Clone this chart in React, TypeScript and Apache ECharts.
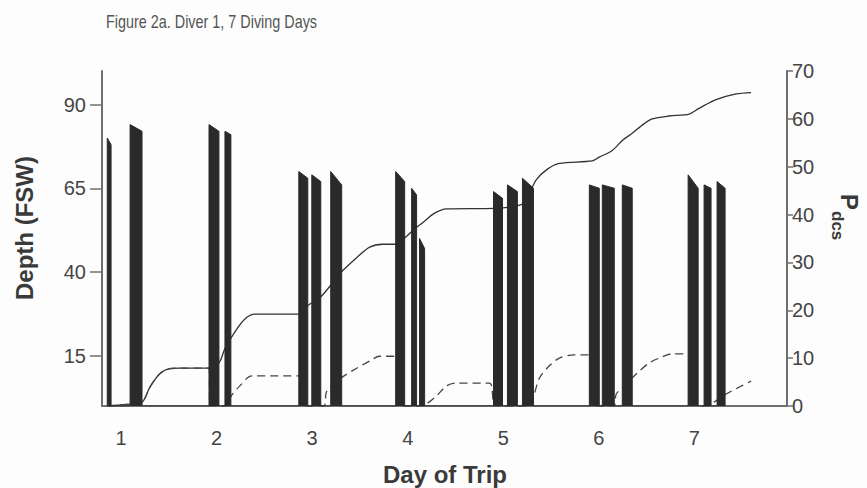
import { useEffect, useRef } from "react";
import * as echarts from "echarts";

// ---- data ----
const dayTicks = [1, 2, 3, 4, 5, 6, 7];
const depthTicks = [15, 40, 65, 90];

// dives (day of trip), depth in FSW
const diveStart = [0.855, 1.094, 1.92, 2.087, 2.86, 2.996, 3.194, 3.874, 4.041, 4.124, 4.898, 5.044, 5.201, 5.901, 6.037, 6.246, 6.935, 7.102, 7.238];
const diveEnd = [0.895, 1.219, 2.024, 2.149, 2.954, 3.09, 3.309, 3.968, 4.093, 4.177, 4.992, 5.148, 5.316, 6.005, 6.162, 6.35, 7.04, 7.175, 7.322];
const diveMaxDepth = [80, 84, 84, 82, 70, 69, 70, 70, 65, 50, 64, 66, 68, 66, 66, 66, 69, 66, 67];
const diveEndDepth = [78, 82, 82, 81, 68, 67, 66, 67, 63, 47, 62, 64, 65, 65, 65, 65, 65, 65, 65];

// cumulative P(dcs) (solid line)
const cumDay = [0.854, 1.094, 1.219, 1.303, 1.408, 1.512, 1.617, 1.92, 2.024, 2.087, 2.191, 2.296, 2.4, 2.87, 2.954, 3.079, 3.205, 3.32, 3.466, 3.602, 3.738, 3.884, 3.968, 4.072, 4.156, 4.281, 4.406, 4.908, 5.201, 5.274, 5.347, 5.462, 5.587, 5.932, 6.005, 6.141, 6.246, 6.35, 6.475, 6.559, 6.737, 6.946, 7.05, 7.228, 7.437, 7.594];
const cumP = [0, 0.4, 0.8, 4, 6.8, 7.8, 7.9, 7.9, 9, 12, 15.5, 18.2, 19.2, 19.2, 21, 22.6, 25.5, 28.3, 31, 33.2, 33.8, 33.8, 35.1, 37, 38.3, 40.3, 41.2, 41.3, 42.2, 44.5, 47.3, 49.5, 50.7, 51.2, 52, 53.4, 55.5, 57, 59, 60, 60.6, 61, 62.2, 64, 65.2, 65.5];

// daily P(dcs) (dashed line)
const dailyDay = [0.854, 1.094, 1.219, 1.303, 1.408, 1.512, 1.617, 1.92, 1.93, 2.12, 2.139, 2.243, 2.369, 2.923, 2.93, 3.12, 3.153, 3.3, 3.466, 3.602, 3.706, 3.884, 3.9, 4.17, 4.197, 4.302, 4.406, 4.511, 4.856, 4.92, 5.28, 5.305, 5.378, 5.483, 5.587, 5.744, 5.901, 5.92, 6.16, 6.183, 6.287, 6.392, 6.528, 6.632, 6.768, 7.019, 7.03, 7.15, 7.176, 7.333, 7.437, 7.594];
const dailyP = [0, 0.4, 0.8, 4, 6.8, 7.8, 7.9, 7.9, 0, 0, 1.7, 4.2, 6.3, 6.3, 0, 0, 3.1, 5.8, 7.9, 9.4, 10.4, 10.4, 0, 0, 0.4, 2.1, 4.2, 4.8, 4.8, 0, 0, 1, 5.8, 8.4, 10, 10.7, 10.7, 0, 0, 2.5, 4.6, 6.7, 9, 10, 10.9, 10.9, 0, 0, 0.4, 2.5, 3.6, 5.2];

const FONT = "'Liberation Sans', Arial, sans-serif";
const INK = "#2a2a2a";
const AXIS = "#6f6f6f";
const LABEL = "#444";
const TITLE = "#3a3a3a";

export default function App() {
  const ref = useRef<HTMLDivElement>(null);

  useEffect(() => {
    if (!ref.current) return;
    const chart = echarts.init(ref.current, undefined, { renderer: "svg" });

    const profile: number[][] = [];
    for (let i = 0; i < diveStart.length; i++) {
      profile.push([diveStart[i], 0], [diveStart[i], diveMaxDepth[i]], [diveEnd[i], diveEndDepth[i]], [diveEnd[i], 0]);
    }
    const cum = cumDay.map((d, i) => [d, cumP[i]]);
    const daily = dailyDay.map((d, i) => [d, dailyP[i]]);

    chart.setOption({
      animation: false,
      backgroundColor: "#fdfdfd",
      grid: { left: 102, right: 80, top: 71, bottom: 82, containLabel: false },
      xAxis: {
        type: "value",
        min: 0.8,
        max: 7.97,
        axisLine: { show: true, lineStyle: { color: AXIS, width: 2 } },
        axisTick: { show: false },
        splitLine: { show: false },
        axisLabel: {
          customValues: dayTicks,
          fontSize: 20,
          fontFamily: FONT,
          color: LABEL,
          margin: 22,
        },
      },
      yAxis: [
        {
          type: "value",
          position: "left",
          min: 0,
          max: 100,
          axisLine: { show: true, lineStyle: { color: AXIS, width: 2 } },
          axisTick: { show: true, length: 12, customValues: depthTicks, lineStyle: { color: AXIS, width: 1.5 } },
          splitLine: { show: false },
          axisLabel: {
            customValues: depthTicks,
            fontSize: 20,
            fontFamily: FONT,
            color: LABEL,
            margin: 16,
          },
        },
        {
          type: "value",
          position: "right",
          min: 0,
          max: 70,
          interval: 10,
          axisLine: { show: true, lineStyle: { color: AXIS, width: 2 } },
          axisTick: { show: true, length: 6, lineStyle: { color: AXIS, width: 1.5 } },
          splitLine: { show: false },
          axisLabel: {
            fontSize: 20,
            fontFamily: FONT,
            color: LABEL,
            margin: 5,
          },
        },
      ],
      series: [
        {
          name: "Cumulative P(dcs)",
          type: "line",
          yAxisIndex: 1,
          data: cum,
          showSymbol: false,
          smooth: 0.3,
          lineStyle: { color: "#333", width: 1.3 },
          z: 2,
        },
        {
          name: "Daily P(dcs)",
          type: "line",
          yAxisIndex: 1,
          data: daily,
          showSymbol: false,
          smooth: 0.3,
          lineStyle: { color: "#444", width: 1.3, type: [8, 5] },
          z: 2,
        },
        {
          name: "Depth",
          type: "line",
          yAxisIndex: 0,
          data: profile,
          showSymbol: false,
          lineStyle: { color: INK, width: 1 },
          areaStyle: { color: INK, opacity: 1 },
          z: 3,
        },
      ],
      graphic: [
        {
          type: "text",
          x: 106,
          y: 12,
          scaleX: 0.8,
          style: { text: "Figure 2a. Diver 1, 7 Diving Days", fontSize: 18, fontFamily: FONT, fill: "#555" },
        },
        {
          type: "text",
          x: 24,
          y: 228,
          rotation: Math.PI / 2,
          style: {
            text: "Depth (FSW)",
            fontSize: 24,
            fontWeight: "bold",
            fontFamily: FONT,
            fill: TITLE,
            align: "center",
            verticalAlign: "middle",
          },
        },
        {
          type: "text",
          x: 445,
          y: 474,
          style: {
            text: "Day of Trip",
            fontSize: 24,
            fontWeight: "bold",
            fontFamily: FONT,
            fill: TITLE,
            align: "center",
            verticalAlign: "middle",
          },
        },
        {
          type: "group",
          x: 837,
          y: 194,
          rotation: -Math.PI / 2,
          children: [
            {
              type: "text",
              x: 0,
              y: 0,
              style: { text: "P", fontSize: 24, fontWeight: "bold", fontFamily: FONT, fill: TITLE, align: "left", verticalAlign: "bottom" },
            },
            {
              type: "text",
              x: 17,
              y: 8,
              style: { text: "dcs", fontSize: 17, fontWeight: "bold", fontFamily: FONT, fill: TITLE, align: "left", verticalAlign: "bottom" },
            },
          ],
        },
      ],
    });

    return () => chart.dispose();
  }, []);

  return <div ref={ref} style={{ position: "fixed", left: 0, top: 0, width: 867, height: 488 }} />;
}
